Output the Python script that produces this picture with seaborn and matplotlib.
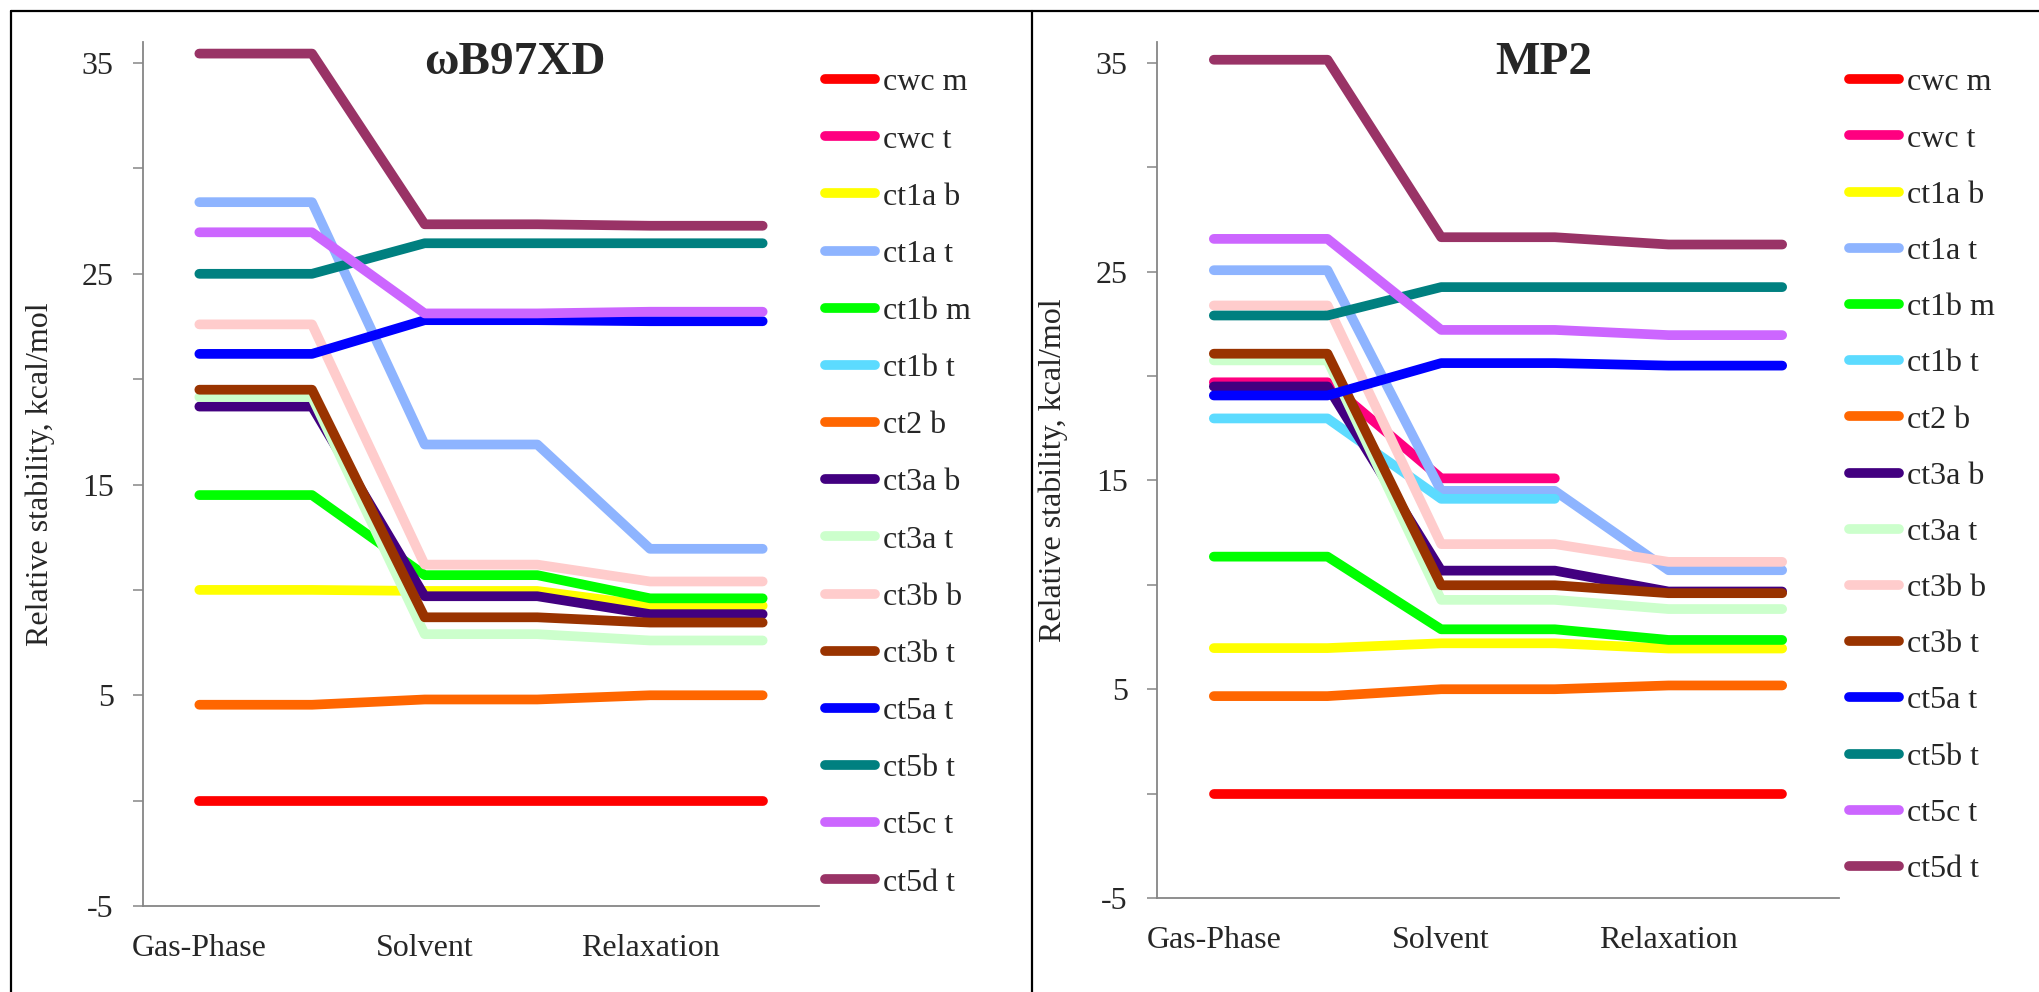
import numpy as np
import pandas as pd
import matplotlib
matplotlib.use("Agg")
import matplotlib.pyplot as plt
from matplotlib.lines import Line2D
import seaborn as sns

sns.set_theme(style="white")
plt.rcParams['font.family'] = ['Liberation Serif', 'DejaVu Serif']

nan = np.nan

# x positions: each phase is drawn as a plateau of two category slots
STEPS = [0, 1, 2, 3, 4, 5]
PHASES = ["Gas-Phase", "Solvent", "Relaxation"]

SERIES = ["cwc m", "cwc t", "ct1a b", "ct1a t", "ct1b m", "ct1b t", "ct2 b",
          "ct3a b", "ct3a t", "ct3b b", "ct3b t", "ct5a t", "ct5b t", "ct5c t", "ct5d t"]
COLORS = ["#FF0000", "#FF0080", "#FFFF00", "#8EB4FF", "#00FF00", "#5CDBFF", "#FF6600",
          "#420080", "#CCFFCC", "#FFCCCC", "#993300", "#0000FF", "#008080", "#CC66FF", "#993366"]

WB97XD = {
    "cwc m":  [0, 0, 0, 0, 0, 0],
    "cwc t":  [nan, nan, nan, nan, nan, nan],
    "ct1a b": [10.0, 10.0, 9.95, 9.95, 9.25, 9.25],
    "ct1a t": [28.4, 28.4, 16.9, 16.9, 11.95, 11.95],
    "ct1b m": [14.5, 14.5, 10.7, 10.7, 9.6, 9.6],
    "ct1b t": [nan, nan, nan, nan, nan, nan],
    "ct2 b":  [4.55, 4.55, 4.8, 4.8, 5.0, 5.0],
    "ct3a b": [18.7, 18.7, 9.7, 9.7, 8.85, 8.85],
    "ct3a t": [19.15, 19.15, 7.9, 7.9, 7.6, 7.6],
    "ct3b b": [22.6, 22.6, 11.2, 11.2, 10.4, 10.4],
    "ct3b t": [19.5, 19.5, 8.7, 8.7, 8.45, 8.45],
    "ct5a t": [21.2, 21.2, 22.8, 22.8, 22.75, 22.75],
    "ct5b t": [25.0, 25.0, 26.45, 26.45, 26.45, 26.45],
    "ct5c t": [26.97, 26.97, 23.12, 23.12, 23.2, 23.2],
    "ct5d t": [35.45, 35.45, 27.35, 27.35, 27.28, 27.28],
}

MP2 = {
    "cwc m":  [0, 0, 0, 0, 0, 0],
    "cwc t":  [19.7, 19.7, 15.1, 15.1, nan, nan],
    "ct1a b": [6.97, 6.97, 7.2, 7.2, 6.95, 6.95],
    "ct1a t": [25.07, 25.07, 14.5, 14.5, 10.7, 10.7],
    "ct1b m": [11.35, 11.35, 7.87, 7.87, 7.36, 7.36],
    "ct1b t": [17.97, 17.97, 14.12, 14.12, nan, nan],
    "ct2 b":  [4.67, 4.67, 5.0, 5.0, 5.18, 5.18],
    "ct3a b": [19.5, 19.5, 10.68, 10.68, 9.68, 9.68],
    "ct3a t": [20.75, 20.75, 9.28, 9.28, 8.84, 8.84],
    "ct3b b": [23.38, 23.38, 11.95, 11.95, 11.1, 11.1],
    "ct3b t": [21.07, 21.07, 9.98, 9.98, 9.6, 9.6],
    "ct5a t": [19.07, 19.07, 20.62, 20.62, 20.5, 20.5],
    "ct5b t": [22.9, 22.9, 24.26, 24.26, 24.26, 24.26],
    "ct5c t": [26.57, 26.57, 22.21, 22.21, 21.96, 21.96],
    "ct5d t": [35.15, 35.15, 26.65, 26.65, 26.3, 26.3],
}

Y_TICKS = [-5, 0, 5, 10, 15, 20, 25, 30, 35]
Y_TICK_LABELS = ["-5", "", "5", "", "15", "", "25", "", "35"]
Y_LABEL = "Relative stability, kcal/mol"

AXIS_GRAY = "#868686"
LW = 7
FS = 23
palette = dict(zip(SERIES, COLORS))


def to_long(values):
    rows = []
    for name in SERIES:
        for step, v in zip(STEPS, values[name]):
            rows.append({"series": name, "step": step, "value": v})
    return pd.DataFrame(rows)


def draw_panel(ax, values, title, title_x, legend_x, spacing):
    df = to_long(values)
    sns.lineplot(data=df, x="step", y="value", hue="series", hue_order=SERIES,
                 palette=palette, linewidth=LW, estimator=None, sort=False,
                 legend=False, ax=ax, solid_capstyle="round", solid_joinstyle="round")

    ax.set_xlim(-0.5, 5.5)
    ax.set_ylim(-5, 36)
    ax.set_xticks([0, 2, 4])
    ax.set_xticklabels(PHASES, fontsize=FS)
    ax.set_yticks(Y_TICKS)
    ax.set_yticklabels(Y_TICK_LABELS, fontsize=FS)
    ax.tick_params(axis="x", length=0, pad=20)
    ax.tick_params(axis="y", length=7, width=1.1, color=AXIS_GRAY, pad=14, direction="out", left=True)
    ax.set_xlabel("")
    ax.set_ylabel(Y_LABEL, fontsize=FS)
    ax.yaxis.set_label_coords(-0.13, 0.5)
    sns.despine(ax=ax)
    for side in ["left", "bottom"]:
        ax.spines[side].set_color(AXIS_GRAY)
        ax.spines[side].set_linewidth(1.3)
    ax.grid(False)

    ax.text(title_x, 0.976, title, transform=ax.transAxes, ha="center", va="center",
            fontsize=34, fontweight="bold")

    handles = [Line2D([], [], color=c, lw=LW, solid_capstyle="round") for c in COLORS]
    ax.legend(handles, SERIES, loc="upper left", bbox_to_anchor=(legend_x, 1 - 68 / 992),
              bbox_transform=ax.figure.transFigure, frameon=False, fontsize=FS,
              handlelength=1.56, handletextpad=0.25, labelspacing=spacing,
              borderpad=0, borderaxespad=0)


fig = plt.figure(figsize=(20.4, 9.92), dpi=100)
ax1 = fig.add_axes([143 / 2040, 86 / 992, 676 / 2040, 864 / 992])
ax2 = fig.add_axes([1157 / 2040, 94 / 992, 682 / 2040, 856 / 992])

draw_panel(ax1, WB97XD, "ωB97XD", 0.55, 825 / 2040, 0.87)
draw_panel(ax2, MP2, "MP2", 0.5667, 1849 / 2040, 0.84)

# outer frame and panel divider
for xs, ys in [([11 / 2040, 1], [1 - 11 / 992, 1 - 11 / 992]),
               ([11 / 2040, 11 / 2040], [0, 1 - 11 / 992]),
               ([1032 / 2040, 1032 / 2040], [0, 1 - 11 / 992])]:
    fig.add_artist(Line2D(xs, ys, transform=fig.transFigure, color="black", lw=1.6))

fig.savefig("out.png", dpi=100, facecolor="white")
